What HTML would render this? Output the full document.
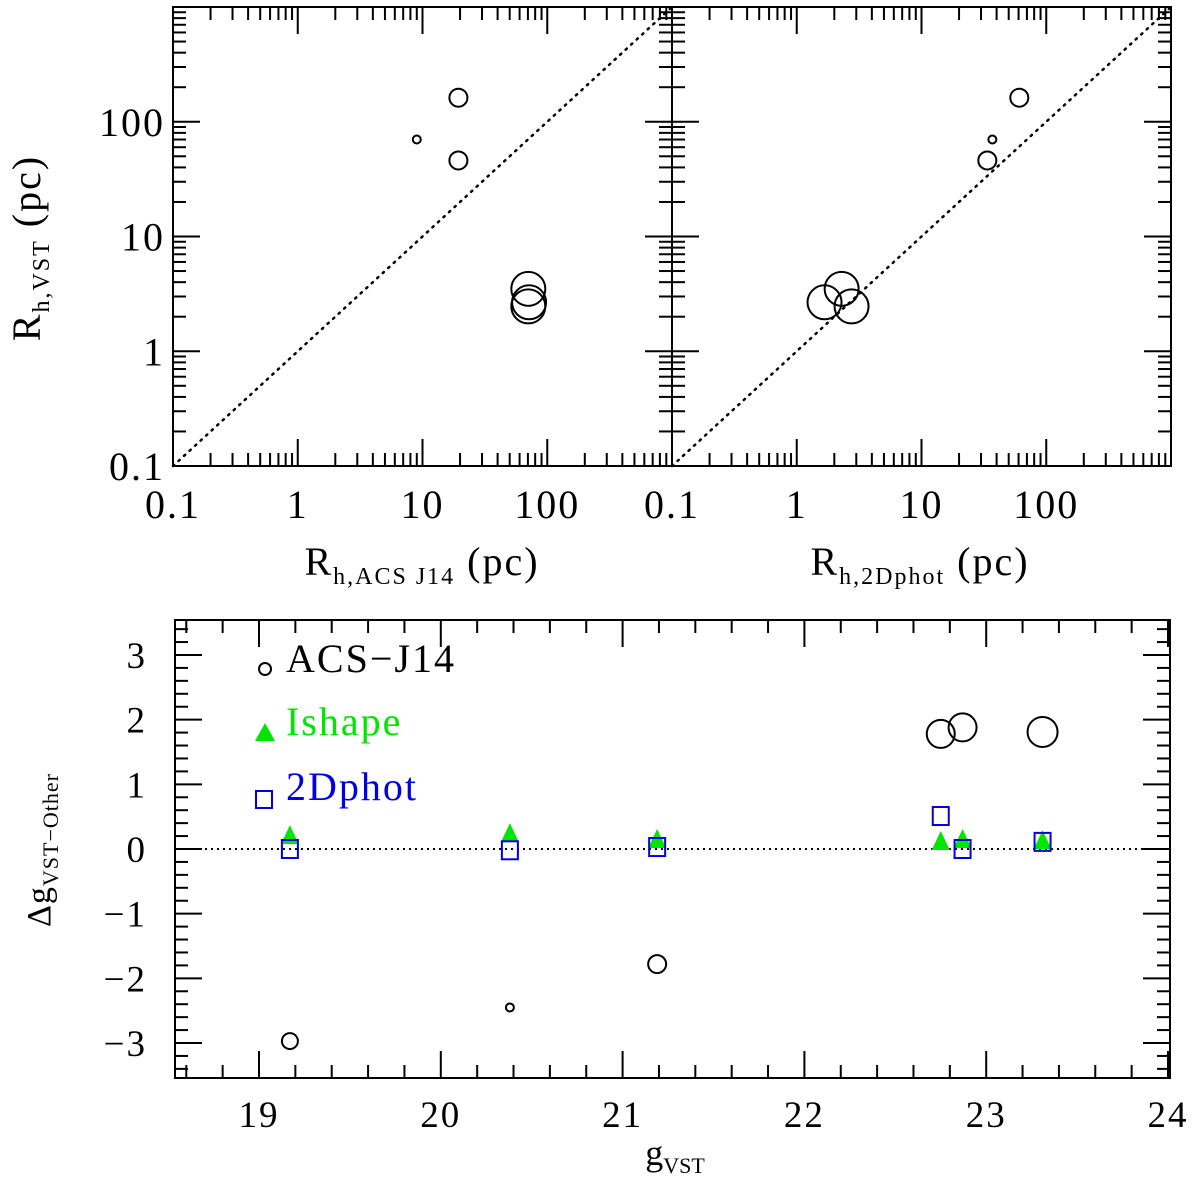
<!DOCTYPE html>
<html><head><meta charset="utf-8"><style>
body{margin:0;background:#fff}
svg{display:block;font-family:"Liberation Serif",serif}
</style></head><body>
<svg id="c" width="1200" height="1185" viewBox="0 0 1200 1185">
<text x="-248" y="40" transform="rotate(-90)" font-size="40" letter-spacing="2" text-anchor="middle">R<tspan font-size="24" dy="9">h,VST</tspan><tspan dy="-9">  (pc)</tspan></text>
<text x="422" y="575" font-size="40" letter-spacing="2" text-anchor="middle">R<tspan font-size="24" dy="9">h,ACS J14</tspan><tspan dy="-9">  (pc)</tspan></text>
<text x="920" y="575" font-size="40" letter-spacing="2" text-anchor="middle">R<tspan font-size="24" dy="9">h,2Dphot</tspan><tspan dy="-9">  (pc)</tspan></text>
<text x="-850" y="50" transform="rotate(-90)" font-size="34" letter-spacing="1" text-anchor="middle">Δg<tspan font-size="22" dy="8">VST−Other</tspan></text>
<text x="675" y="1165" font-size="36" text-anchor="middle">g<tspan font-size="22" dy="8">VST</tspan></text>
<g>
<circle cx="265" cy="669" r="6" fill="none" stroke="#000" stroke-width="2"/>
<text x="286" y="672" font-size="40" letter-spacing="2">ACS−J14</text>
<polygon points="255,741 275,741 265,723" fill="#00e600"/>
<text x="286" y="735" font-size="40" letter-spacing="2" fill="#00e600">Ishape</text>
<rect x="256" y="791" width="16" height="17" fill="none" stroke="#0000e0" stroke-width="2"/>
<text x="286" y="800" font-size="40" letter-spacing="2" fill="#0000e0">2Dphot</text>
</g>
</svg>
<script>
// Top panels data
const acsX = [19.4, 9.0, 19.4, 70.5, 71.5, 70.5];
const vstY = [162, 70, 46, 3.5, 2.67, 2.46];
const phX = [60.8, 37, 33.7, 2.29, 1.67, 2.75];
const sizes = [9, 4, 9, 17, 17, 17];
const logTicks = [0.1, 1, 10, 100];
const logTickLabels = ["0.1", "1", "10", "100"];
// Bottom panel data
const gVst = [19.17, 20.38, 21.19, 22.75, 22.87, 23.31];
const dAcs = [-2.97, -2.45, -1.78, 1.78, 1.88, 1.81];
const acsR = [8, 4, 9, 14, 14, 15];
const dIshape = [0.23, 0.26, 0.17, 0.14, 0.17, 0.15];
const d2D = [0.0, -0.02, 0.03, 0.51, 0.0, 0.11];
const gTicks = [19, 20, 21, 22, 23, 24];
const dTicks = [-3, -2, -1, 0, 1, 2, 3];

const svg = document.getElementById('c');
const NS = 'http://www.w3.org/2000/svg';
function mk(tag, attrs, parent) {
  const e = document.createElementNS(NS, tag);
  for (const k in attrs) e.setAttribute(k, attrs[k]);
  (parent || svg).appendChild(e);
  return e;
}
function line(x1, y1, x2, y2, p) {
  return mk('line', {x1, y1, x2, y2, stroke: '#000', 'stroke-width': 2}, p);
}

function logPanel(left, name, xs, showYLabels) {
  const top = 7, bot = 466, right = left + 499;
  const sx = v => left + (Math.log10(v) + 1) * 124.75;
  const sy = v => bot - (Math.log10(v) + 1) * 114.75;
  const g = mk('g', {});
  
  
  const fr = mk('rect', {x: left, y: top, width: 499, height: bot - top, fill: 'none', stroke: '#000', 'stroke-width': 2}, g);
  
  
  for (let d = -1; d < 3; d++) {
    for (let m = 1; m < 10; m++) {
      const v = m * Math.pow(10, d);
      const L = m === 1 ? 27 : 13;
      const x = sx(v), y = sy(v);
      line(x, bot, x, bot - L, g); line(x, top, x, top + L, g);
      line(left, y, left + L, y, g); line(right, y, right - L, y, g);
    }
  }
  const dl = mk('line', {x1: sx(0.1), y1: sy(0.1), x2: sx(1000), y2: sy(1000), stroke: '#000', 'stroke-width': 2.5, 'stroke-dasharray': '1.5 6', 'stroke-linecap': 'round'}, g);
  
  
  logTicks.forEach((v, i) => {
    const t = mk('text', {x: sx(v), y: 518, 'font-size': 40, 'letter-spacing': 2, 'text-anchor': 'middle'}, g);
    t.textContent = logTickLabels[i];
    
    
    if (showYLabels) {
      const ty = mk('text', {x: left - 8, y: sy(v) + 14, 'font-size': 40, 'letter-spacing': 2, 'text-anchor': 'end'}, g);
      ty.textContent = logTickLabels[i];
      
      
    }
  });
  xs.forEach((xv, i) => {
    const c = mk('circle', {cx: sx(xv), cy: sy(vstY[i]), r: sizes[i], fill: 'none', stroke: '#000', 'stroke-width': 2}, g);
    
    
  });
}
logPanel(173, 'panel-acs', acsX, true);
logPanel(672, 'panel-2dphot', phX, false);

// bottom panel
(function () {
  const left = 175, right = 1170, top = 620, bot = 1078;
  const sx = v => 259 + (v - 19) * 181.8;
  const sy = v => 849 - v * 64.67;
  const g = mk('g', {});
  
  
  const fr = mk('rect', {x: left, y: top, width: right - left, height: bot - top, fill: 'none', stroke: '#000', 'stroke-width': 2}, g);
  
  
  for (let k = 93; k <= 240; k++) {
    const v = k / 5; const x = sx(v);
    if (x < left || x > right) continue;
    const L = k % 5 === 0 ? 27 : 13;
    line(x, bot, x, bot - L, g); line(x, top, x, top + L, g);
  }
  for (let k = -17; k <= 17; k++) {
    const v = k / 5; const y = sy(v);
    if (y < top || y > bot) continue;
    const L = k % 5 === 0 ? 27 : 13;
    line(left, y, left + L, y, g); line(right, y, right - L, y, g);
  }
  gTicks.forEach(v => {
    const t = mk('text', {x: sx(v), y: 1127, 'font-size': 37, 'letter-spacing': 2, 'text-anchor': 'middle'}, g);
    t.textContent = v;
    
    
  });
  dTicks.forEach(v => {
    const t = mk('text', {x: 147, y: sy(v) + 13, 'font-size': 37, 'letter-spacing': 2, 'text-anchor': 'end'}, g);
    t.textContent = v < 0 ? '−' + (-v) : String(v);
    
    
  });
  const zl = mk('line', {x1: left, y1: sy(0), x2: right, y2: sy(0), stroke: '#000', 'stroke-width': 2, 'stroke-dasharray': '2 4'}, g);
  
  
  gVst.forEach((gv, i) => {
    const x = sx(gv);
    const c = mk('circle', {cx: x, cy: sy(dAcs[i]), r: acsR[i], fill: 'none', stroke: '#000', 'stroke-width': 2}, g);
    
    
    const y2 = sy(dIshape[i]);
    const tr = mk('polygon', {points: `${x-9},${y2+10} ${x+9},${y2+10} ${x},${y2-9}`, fill: '#00e600'}, g);
    
    
    const y3 = sy(d2D[i]);
    const sq = mk('rect', {x: x - 8, y: y3 - 9, width: 16, height: 18, fill: 'none', stroke: '#0000e0', 'stroke-width': 2}, g);
    
    
  });
})();
</script>
</body></html>
